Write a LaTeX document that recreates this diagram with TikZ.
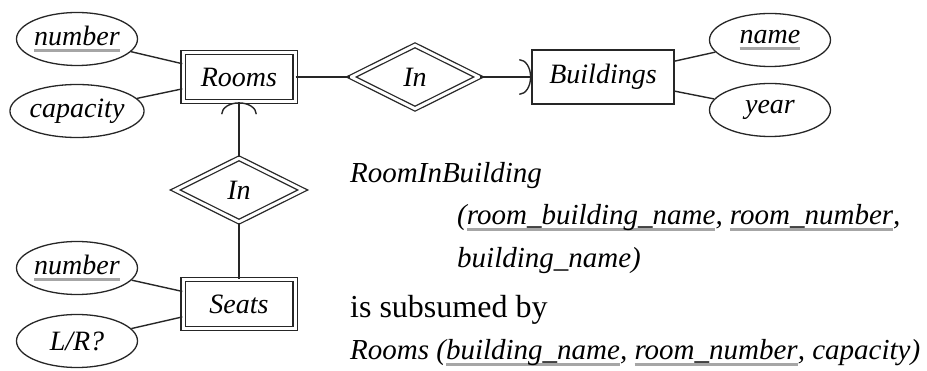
\documentclass[tikz,border=0pt]{standalone}
\usepackage{fontspec}
\setmainfont{Liberation Serif}
\usepackage{xcolor}
\usetikzlibrary{shapes.geometric,arrows.meta,positioning}
% key attributes get a grey bar under them
\newcommand{\keyattr}[1]{\setbox0\hbox{#1}\rlap{\color{black!35}\rule[-6pt]{\wd0}{2.5pt}}\box0}
\tikzset{
  entity/.style={rectangle, draw=black!85, line width=1.4pt, minimum width=142pt, minimum height=54pt, inner sep=0pt, font=\itshape},
  weakentity/.style={entity, double, double distance=3pt, minimum width=112pt, minimum height=49pt},
  relation/.style={diamond, draw=black!85, double, double distance=3pt, line width=1.3pt, minimum width=128pt, minimum height=64pt, inner sep=0pt, font=\itshape},
  attribute/.style={ellipse, draw=black!85, line width=1.3pt, minimum width=121pt, minimum height=53pt, inner sep=0pt, font=\itshape},
  link/.style={draw=black!85, line width=1.4pt},
  onearrow/.style={-{Arc Barb[length=12pt, width=36pt]}},
  textline/.style={anchor=base west, inner sep=0pt, font=\fontsize{29}{34}\selectfont\itshape}
}
\begin{document}
\fontsize{28}{32}\selectfont
\begin{tikzpicture}[x=1pt, y=-1pt]
    \useasboundingbox (0,0) rectangle (927,371);
    % Entities and relationships
    \node[weakentity] (rooms) at (239,77) {Rooms};
    \node[relation] (rin) at (415,77) {In};
    \node[entity] (bldg) at (603,77) {Buildings};
    \node[relation] (sin) at (239,190) {In};
    \node[weakentity] (seats) at (239,304) {Seats};
    % Attributes
    \node[attribute] (rnum) at (77,39) {\keyattr{number}};
    \node[attribute] (rcap) at (77,111) {capacity};
    \node[attribute] (bname) at (770,40) {\keyattr{name}};
    \node[attribute] (byear) at (770,110) {year};
    \node[attribute] (snum) at (77,268) {\keyattr{number}};
    \node[attribute] (slr) at (77,341) {L/R?};
    % Connectors
    \draw[link] (rnum) -- (rooms);
    \draw[link] (rcap) -- (rooms);
    \draw[link] (bname) -- (bldg);
    \draw[link] (byear) -- (bldg);
    \draw[link] (snum) -- (seats);
    \draw[link] (slr) -- (seats);
    \draw[link] (rooms) -- (rin);
    \draw[link, onearrow] (rin) -- (bldg);
    \draw[link, onearrow] (sin) -- (rooms);
    \draw[link] (sin) -- (seats);
    % Relation schemas
    \node[textline] (ribname) at (350,183) {RoomInBuilding};
    \node[textline] (ribattrs) at (457,225) {(\keyattr{room\_building\_name}, \keyattr{room\_number},};
    \node[textline] (ribattrsb) at (457,268) {building\_name)};
    \node[textline, font=\fontsize{32}{36}\selectfont] (subsumed) at (350,318) {is subsumed by};
    \node[textline] (roomsrel) at (350,360) {Rooms (\keyattr{building\_name}, \keyattr{room\_number}, capacity)};
\end{tikzpicture}
\end{document}
